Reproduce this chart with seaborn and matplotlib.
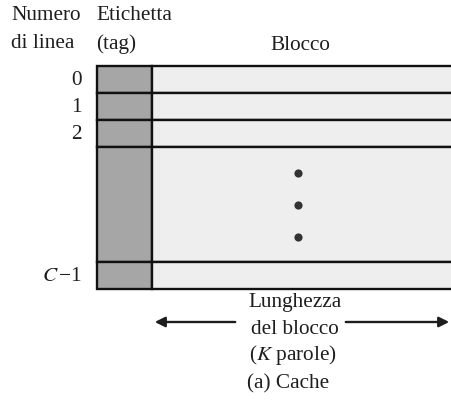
import matplotlib
matplotlib.use("Agg")
import matplotlib.pyplot as plt
import seaborn as sns

# Dati del diagramma (struttura della cache)
etichette_linea = ["0", "1", "2", "", "$C\\,$−1"]
altezze_righe = [27, 27, 27, 115, 27]   # altezza di ogni riga (px)
puntini_y = [173, 205, 237]

sns.set_theme(style="white")
plt.rcParams['font.family'] = ['Liberation Serif', 'DejaVu Serif']
plt.rcParams['mathtext.fontset'] = 'stix'

fig = plt.figure(figsize=(4.52, 4.00), dpi=100)
ax = fig.add_axes([0, 0, 1, 1])
ax.set_xlim(0, 452)
ax.set_ylim(400, 0)
ax.axis("off")

FS = 15.3
INK = "#1e1e1e"
X_SIN, X_DIV, X_DES = 97, 152, 452
Y0 = 66

# righe della tabella
tops = []
y = Y0
for h in altezze_righe:
    tops.append(y)
    y += h
centri = [t + h / 2 for t, h in zip(tops, altezze_righe)]

ax.barh(centri, [X_DIV - X_SIN] * len(centri), height=altezze_righe, left=X_SIN,
        color="#a6a6a6", edgecolor="#111111", linewidth=1.7)
ax.barh(centri, [X_DES - X_DIV + 2] * len(centri), height=altezze_righe, left=X_DIV,
        color="#eeeeee", edgecolor="#111111", linewidth=1.7)

for c, lab in zip(centri, etichette_linea):
    if lab:
        ax.text(82, c + 1, lab, ha="right", va="center", fontsize=FS, color=INK)

ax.scatter([298] * len(puntini_y), puntini_y, s=24, color="#333333", zorder=3)

# intestazioni
ax.text(11, 16, "Numero", fontsize=FS, va="center", color=INK)
ax.text(11, 44, "di linea", fontsize=FS, va="center", color=INK)
ax.text(96, 16, "Etichetta", fontsize=FS, va="center", color=INK)
ax.text(96, 44, "(tag)", fontsize=FS, va="center", color=INK)
ax.text(300, 46, "Blocco", fontsize=FS, va="center", ha="center", color=INK)

# freccia lunghezza del blocco
ax.annotate("", xy=(152, 322), xytext=(238, 322),
            arrowprops=dict(arrowstyle="-|>", color=INK, lw=1.7, mutation_scale=15))
ax.annotate("", xy=(452, 322), xytext=(343, 322),
            arrowprops=dict(arrowstyle="-|>", color=INK, lw=1.7, mutation_scale=15))
ax.text(295, 302, "Lunghezza", fontsize=FS, ha="center", va="center", color=INK)
ax.text(295, 329, "del blocco", fontsize=FS, ha="center", va="center", color=INK)
ax.text(293, 355, "($\\it{K}$ parole)", fontsize=FS, ha="center", va="center", color=INK)
ax.text(288, 384, "(a) Cache", fontsize=FS, ha="center", va="center", color=INK)

fig.savefig("out.png", dpi=100)
